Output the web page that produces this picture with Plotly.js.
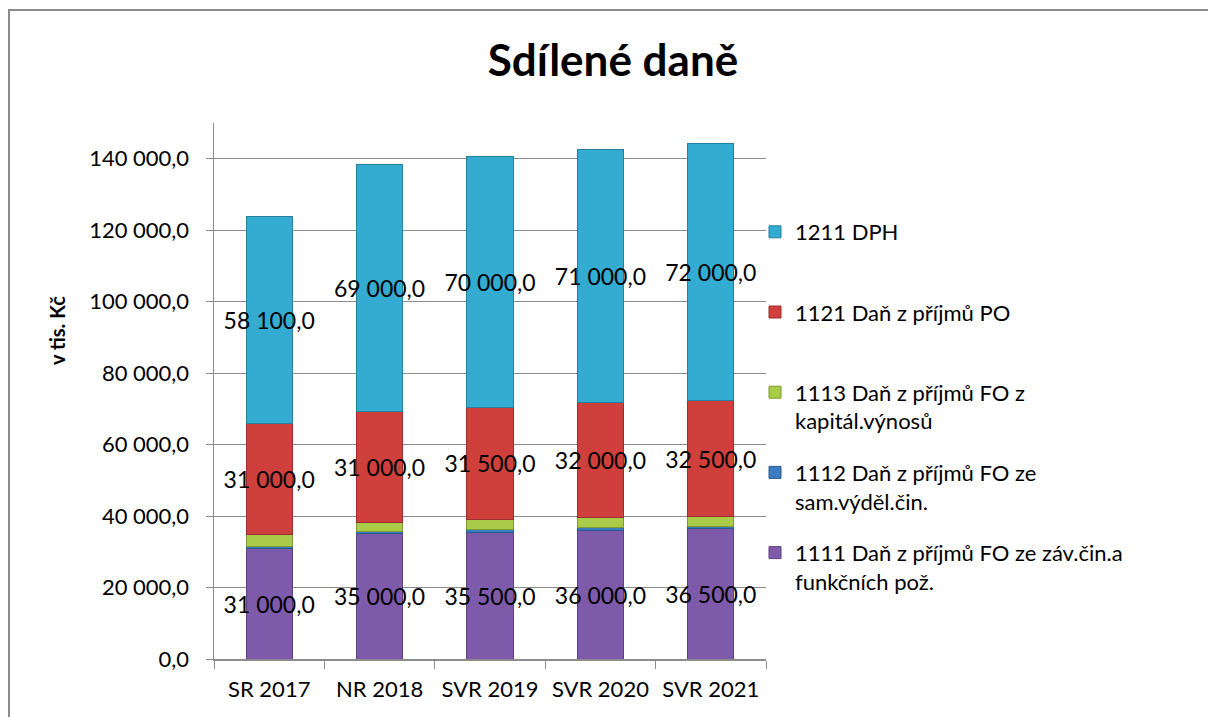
<!DOCTYPE html>
<html>
<head>
<meta charset="utf-8">
<script src="https://cdn.plot.ly/plotly-3.0.1.min.js"></script>
<style>
  html, body { margin: 0; padding: 0; background: #ffffff; }
  #chart { position: absolute; left: 0; top: 0; width: 1208px; height: 717px; }
  #frame { position: absolute; left: 8px; top: 9px; width: 1400px; height: 900px;
           border: 2px solid #8c8c8c; pointer-events: none; }
</style>
</head>
<body>
<div id="chart"></div>
<div id="frame"></div>
<script>
// ---- data (v tis. Kč) ----
const categories = ['SR 2017', 'NR 2018', 'SVR 2019', 'SVR 2020', 'SVR 2021'];
const s1111 = [31000, 35000, 35500, 36000, 36500];
const s1112 = [500, 700, 700, 700, 700];
const s1113 = [3300, 2600, 2800, 3000, 2600];
const s1121 = [31000, 31000, 31500, 32000, 32500];
const s1211 = [58100, 69000, 70000, 71000, 72000];
const seriesNames = [
  '1111 Daň z příjmů FO ze záv.čin.a<br>funkčních pož.',
  '1112 Daň z příjmů FO ze<br>sam.výděl.čin.',
  '1113 Daň z příjmů FO z<br>kapitál.výnosů',
  '1121 Daň z příjmů PO<br>\u00a0',
  '1211 DPH<br>\u00a0'
];
const colors = ['#7e5aab', '#3a7cc2', '#aacb48', '#cf403d', '#34abd0'];
const lineColors = ['#5e407f', '#2a5a8e', '#7f9a33', '#9a2f2d', '#24809c'];
const labelled = [true, false, false, true, true];

const FONT = 'Lato, "Open Sans", "Liberation Sans", sans-serif';
const seriesValues = [s1111, s1112, s1113, s1121, s1211];

const traces = seriesValues.map((vals, i) => ({
  type: 'bar',
  name: seriesNames[i],
  legendgroup: 'g' + i,
  legendrank: seriesValues.length - i,
  x: categories,
  y: vals,
  marker: { color: colors[i], line: { color: lineColors[i], width: 1 } },
  texttemplate: labelled[i] ? '%{value:,.1f}' : '',
  textposition: labelled[i] ? 'inside' : 'none',
  insidetextanchor: 'middle',
  textangle: 0,
  constraintext: 'none',
  insidetextfont: { family: FONT, size: 23, color: '#000000' },
  hoverinfo: 'x+y+name'
}));

const layout = {
  width: 1208,
  height: 717,
  separators: ', ',
  barmode: 'stack',
  bargap: 0.58,
  paper_bgcolor: 'rgba(0,0,0,0)',
  plot_bgcolor: 'rgba(0,0,0,0)',
  margin: { l: 214, r: 442, t: 123, b: 58 },
  font: { family: FONT, size: 22, color: '#000000' },
  title: {
    text: '<b>Sdílené daně</b>',
    font: { family: FONT, size: 44, color: '#000000' },
    xref: 'container', x: 613 / 1208, xanchor: 'center',
    yref: 'container', y: 1 - 61 / 717, yanchor: 'middle'
  },
  xaxis: {
    type: 'category',
    tickson: 'boundaries',
    ticks: 'outside',
    ticklen: 8,
    tickcolor: '#8c8c8c',
    showline: true,
    linecolor: '#8c8c8c',
    linewidth: 1.5,
    showgrid: false,
    tickfont: { family: FONT, size: 22, color: '#000000' },
    ticklabelstandoff: 10
  },
  yaxis: {
    range: [0, 150000],
    dtick: 20000,
    tickformat: ',.1f',
    ticks: 'outside',
    ticklen: 7,
    tickcolor: '#8c8c8c',
    showline: true,
    linecolor: '#8c8c8c',
    linewidth: 1.5,
    showgrid: true,
    gridcolor: '#8c8c8c',
    gridwidth: 1,
    zeroline: false,
    tickfont: { family: FONT, size: 22, color: '#000000' },
    ticklabelstandoff: 12
  },
  legend: {
    x: (755 - 214) / 552,
    xanchor: 'left',
    y: (659 - 211) / 536,
    yanchor: 'top',
    traceorder: 'grouped',
    valign: 'top',
    tracegroupgap: 20,
    font: { family: FONT, size: 22, color: '#000000' },
    bgcolor: 'rgba(0,0,0,0)'
  },
  annotations: [{
    text: '<b>v tis. Kč</b>',
    textangle: -90,
    xref: 'paper', yref: 'paper',
    x: (57 - 214) / 552, y: (659 - 331) / 536,
    xanchor: 'center', yanchor: 'middle',
    showarrow: false,
    font: { family: FONT, size: 20, color: '#000000' }
  }]
};

Plotly.newPlot('chart', traces, layout, { displayModeBar: false, staticPlot: true });
</script>
</body>
</html>
